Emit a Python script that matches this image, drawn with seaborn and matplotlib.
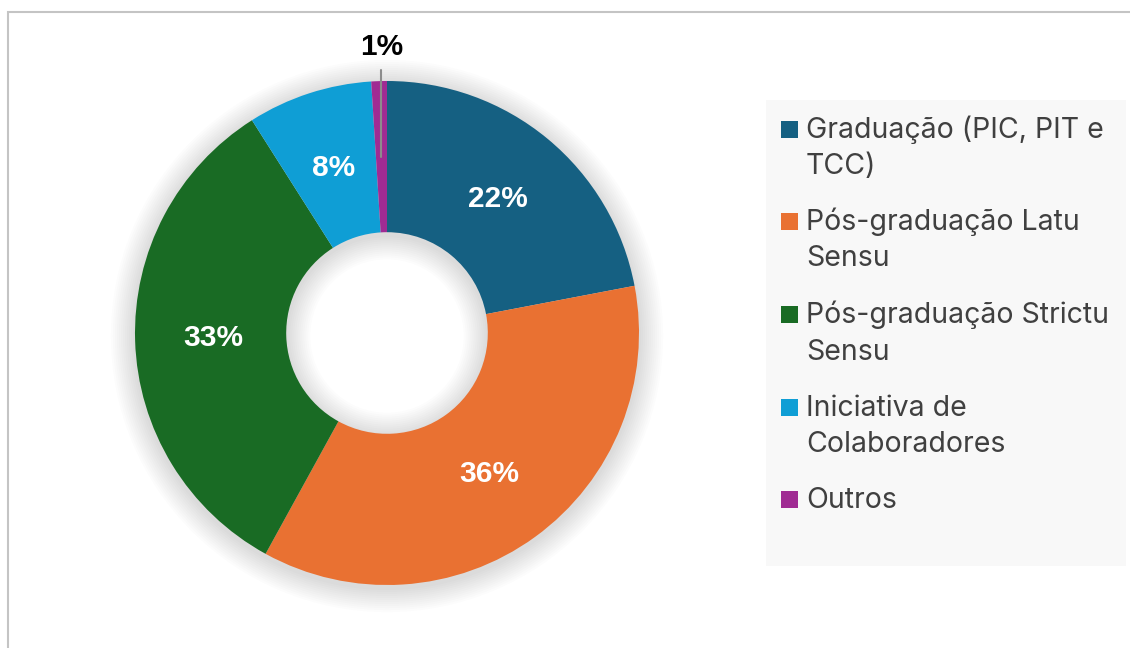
import numpy as np
import matplotlib
matplotlib.use("Agg")
import matplotlib.pyplot as plt
import seaborn as sns
from matplotlib.patches import Rectangle, Wedge

categories = ["Graduação (PIC, PIT e\nTCC)", "Pós-graduação Latu\nSensu",
              "Pós-graduação Strictu\nSensu", "Iniciativa de\nColaboradores", "Outros"]
values = [22, 36, 33, 8, 1]
pct_labels = ["22%", "36%", "33%", "8%", "1%"]
colors = ["#156082", "#E97132", "#196B24", "#0F9ED5", "#A02B93"]

sns.set_theme(style="white")
plt.rcParams['font.family'] = ['Liberation Sans', 'DejaVu Sans']

W, H = 1130, 648
fig = plt.figure(figsize=(W / 100, H / 100), dpi=100)
fig.patch.set_facecolor("white")

# chart border
fig.patches.append(Rectangle((8 / W, -0.1), 1.2, (648 - 12) / H + 0.1,
                             transform=fig.transFigure, fill=False,
                             edgecolor="#c4c4c4", lw=1.5))

cx, cy, R = 387, 333, 252
ax = fig.add_axes([(cx - R) / W, (H - cy - R) / H, 2 * R / W, 2 * R / H])
ax.axis("off")

# soft shadow
for i in range(12):
    d = 0.008 * (i + 1)
    ax.add_patch(Wedge((0.0, -0.012), 1 + d, 0, 360, width=0.6 + 2 * d,
                       facecolor="black", alpha=0.011, lw=0, zorder=0,
                       clip_on=False))

wedges, _ = ax.pie(values, colors=colors, startangle=90, counterclock=False,
                   radius=1.0, wedgeprops=dict(width=0.6, edgecolor="none"))
for w in wedges:
    w.set_zorder(2)
ax.set_xlim(-1, 1)
ax.set_ylim(-1, 1)
ax.set_aspect("equal")

total = float(sum(values))
cum = np.cumsum([0] + values)
for i, (v, lab) in enumerate(zip(values, pct_labels)):
    mid = 90 - 360 * (cum[i] + v / 2) / total
    th = np.deg2rad(mid)
    if v / total < 0.03:
        xl, yl = np.cos(th) * 0.7, np.sin(th) * 0.7
        ax.plot([xl, xl], [yl, 1.045], color="#8c8c8c", lw=1.5, zorder=3,
                clip_on=False)
        ax.text(xl, 1.135, lab, ha="center", va="center", fontsize=21.5,
                fontweight="bold", color="black", clip_on=False, zorder=4)
    else:
        r = 0.69
        ax.text(np.cos(th) * r, np.sin(th) * r, lab, ha="center", va="center",
                fontsize=21.5, fontweight="bold", color="white", zorder=4)

# legend
fig.patches.append(Rectangle((766 / W, (H - 566) / H), (1126 - 766) / W,
                             (566 - 100) / H, transform=fig.transFigure,
                             facecolor="#f8f8f8", edgecolor="none", zorder=0))
entry_y = [130, 222, 315, 408, 500]
for y, lab, c in zip(entry_y, categories, colors):
    fig.patches.append(Rectangle((781 / W, (H - y - 8) / H), 17 / W, 17 / H,
                                 transform=fig.transFigure, facecolor=c,
                                 edgecolor="none", zorder=2))
    for k, line in enumerate(lab.split("\n")):
        fig.text(806 / W, (H - y - 37 * k) / H, line, ha="left", va="center",
                 fontsize=20.5, color="#404040", family=["Inter", "DejaVu Sans"])

fig.savefig("out.png", dpi=100)
